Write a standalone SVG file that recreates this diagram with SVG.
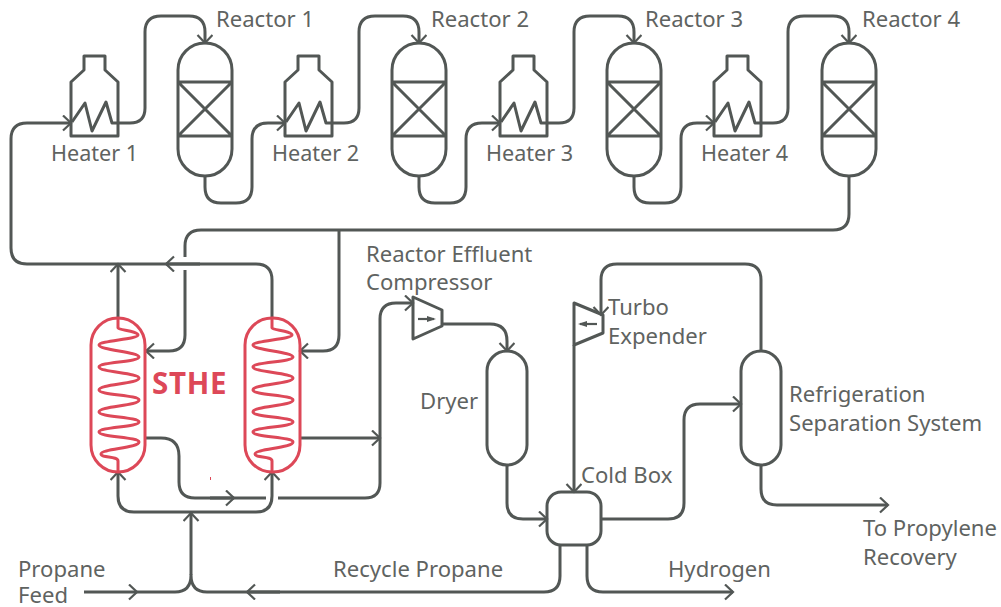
<svg xmlns="http://www.w3.org/2000/svg" width="1001" height="607" viewBox="0 0 1001 607">
<style>
.l{fill:none;stroke:#525755;stroke-width:3;stroke-linejoin:round}
.a{fill:none;stroke:#525755;stroke-width:2.2}
.r{fill:none;stroke:#dd4858;stroke-width:3}
text{font-family:"Noto Sans","Open Sans",sans-serif;font-size:22.1px;fill:#5f6361}
.h{font-size:21.6px}
</style>
<defs>
<marker id="ah" markerUnits="userSpaceOnUse" markerWidth="16" markerHeight="18" refX="13" refY="8" orient="auto"><path d="M5 0.5L13 8L5 15.5" class="a"/></marker>
<g id="heater"><path class="l" d="M84 56H105V70L118 82V136H71V82L84 70Z"/><path class="l" d="M72 122L85 103L92 131L106 102L112 123H118"/></g>
<g id="reactor"><rect class="l" x="178" y="43" width="54" height="133" rx="27"/><path class="l" d="M178 82H232M178 136H232M178 82L232 136M232 82L178 136"/></g>
<path id="coil" class="r" d="M0 318V328C0 330 20 331 20 335C20 339 -19 341 -19 345C-19 350 21 352 21 357C21 362 -19 362 -19 367C-19 372 21 373 21 378C21 384 -19 384 -19 390C-19 395 21 395 21 400C21 406 -19 406 -19 412C-19 417 21 417 21 422C21 427 -19 427 -19 432C-19 437 21 437 21 442C21 448 -17 449 -17 454C-17 458 0 456 0 461V472"/>
</defs>
<g id="connectors">
<path class="l" marker-end="url(#ah)" d="M118 123H130Q145 123 145 108V32Q145 16 161 16H189Q205 16 205 32V43"/>
<path class="l" marker-end="url(#ah)" d="M205 176V187Q205 203 221 203H236Q252 203 252 187V139Q252 123 268 123H285"/>
<path class="l" marker-end="url(#ah)" d="M332 123H344Q359 123 359 108V32Q359 16 375 16H403Q419 16 419 32V43"/>
<path class="l" marker-end="url(#ah)" d="M419 176V187Q419 203 435 203H450Q466 203 466 187V139Q466 123 482 123H500"/>
<path class="l" marker-end="url(#ah)" d="M547 123H559Q574 123 574 108V32Q574 16 590 16H618Q634 16 634 32V43"/>
<path class="l" marker-end="url(#ah)" d="M634 176V187Q634 203 650 203H665Q681 203 681 187V139Q681 123 697 123H714"/>
<path class="l" marker-end="url(#ah)" d="M761 123H773Q788 123 788 108V32Q788 16 804 16H833Q849 16 849 32V43"/>
<path class="l" d="M849 176V214Q849 230 833 230H201Q185 230 185 246V257"/>
<path class="l" marker-end="url(#ah)" d="M185 270V335Q185 351 169 351H146"/>
<path class="l" marker-end="url(#ah)" d="M339 230V335Q339 351 323 351H300"/>
<path class="l" marker-end="url(#ah)" d="M272 318V280Q272 264 256 264H27Q11 264 11 248V139Q11 123 27 123H71"/>
<path class="l" marker-end="url(#ah)" d="M200 264H166"/>
<path class="l" marker-end="url(#ah)" d="M118 318V264"/>
<path class="l" marker-end="url(#ah)" d="M150 512H134Q118 512 118 496V472"/>
<path class="l" marker-end="url(#ah)" d="M150 512H256Q272 512 272 496V472"/>
<path class="l" marker-end="url(#ah)" d="M191 575V513"/>
<path class="l" marker-end="url(#ah)" d="M84 592H137"/>
<path class="l" d="M137 592H175Q191 592 191 575Q191 592 207 592H544Q560 592 560 576V545"/>
<path class="l" marker-end="url(#ah)" d="M280 592H247"/>
<path class="l" marker-end="url(#ah)" d="M587 545V576Q587 592 603 592H733"/>
<path class="l" d="M145 438H161Q179 438 179 456V482Q179 498 195 498H266"/>
<path class="l" marker-end="url(#ah)" d="M278 498H365Q380 498 380 483V319Q380 303 396 303H413"/>
<path class="l" marker-end="url(#ah)" d="M210 498H234"/>
<path class="l" marker-end="url(#ah)" d="M300 438H380"/>
<path class="l" marker-end="url(#ah)" d="M442 324H490Q507 324 507 341V351"/>
<path class="l" marker-end="url(#ah)" d="M507 465V503Q507 519 523 519H547"/>
<path class="l" marker-end="url(#ah)" d="M601 519H668Q684 519 684 503V420Q684 404 700 404H741"/>
<path class="l" marker-end="url(#ah)" d="M761 351V280Q761 264 745 264H617Q601 264 601 280V315"/>
<path class="l" marker-end="url(#ah)" d="M574 345V492"/>
<path class="l" marker-end="url(#ah)" d="M761 465V489Q761 505 777 505H888"/>
</g>
<g id="heater-1"><use href="#heater"/><text class="h" x="51" y="161">Heater 1</text></g>
<g id="heater-2"><use href="#heater" x="214"/><text class="h" x="272" y="161">Heater 2</text></g>
<g id="heater-3"><use href="#heater" x="429"/><text class="h" x="486" y="161">Heater 3</text></g>
<g id="heater-4"><use href="#heater" x="643"/><text class="h" x="701" y="161">Heater 4</text></g>
<g id="reactor-1"><use href="#reactor"/><text x="216" y="27">Reactor 1</text></g>
<g id="reactor-2"><use href="#reactor" x="214"/><text x="431" y="27">Reactor 2</text></g>
<g id="reactor-3"><use href="#reactor" x="429"/><text x="645" y="27">Reactor 3</text></g>
<g id="reactor-4"><use href="#reactor" x="644"/><text x="862" y="27">Reactor 4</text></g>
<g id="sthe">
<rect class="r" x="91" y="318" width="54" height="154" rx="27"/><use href="#coil" x="118"/>
<rect class="r" x="245" y="318" width="55" height="154" rx="27"/><use href="#coil" x="272"/>
<text x="152" y="394" style="font-size:29.5px;font-weight:700;letter-spacing:.7px;fill:#dd4858">STHE</text>
<rect x="210" y="477" width="1" height="3" fill="#dd4858"/>
</g>
<g id="compressor"><path class="l" d="M413 297L442 310V326L413 339Z"/><path class="a" d="M418 319H434"/><path fill="#525755" d="M436 319L427 316V322Z"/><text x="366" y="262">Reactor Effluent</text><text x="366" y="290">Compressor</text></g>
<g id="dryer"><rect class="l" x="487" y="351" width="40" height="114" rx="20"/><text x="420" y="409">Dryer</text></g>
<g id="expander"><path class="l" d="M574 303L603 315V333L574 345Z"/><path class="a" d="M580 324H597"/><path fill="#525755" d="M578 324L587 321V327Z"/><text x="608" y="315">Turbo</text><text x="608" y="344">Expender</text></g>
<g id="cold-box"><rect class="l" x="547" y="492" width="54" height="53" rx="14"/><text x="581" y="483">Cold Box</text></g>
<g id="separation"><rect class="l" x="741" y="351" width="40" height="114" rx="20"/><text x="789" y="402">Refrigeration</text><text x="789" y="431">Separation System</text></g>
<g id="labels">
<text x="18" y="577">Propane</text><text x="18" y="603">Feed</text>
<text x="333" y="577">Recycle Propane</text>
<text x="668" y="577">Hydrogen</text>
<text x="863" y="536">To Propylene</text><text x="863" y="565">Recovery</text>
</g>
</svg>
